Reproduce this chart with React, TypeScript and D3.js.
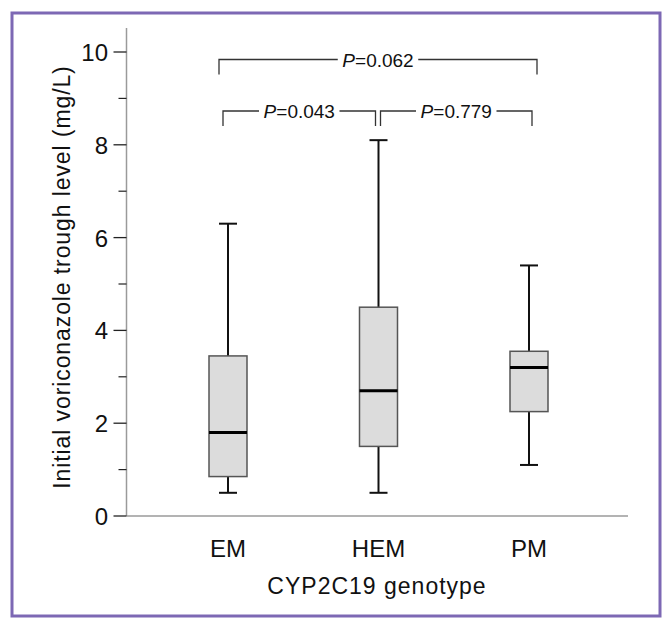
import React from "react";
import * as d3 from "d3";

const categories = ["EM", "HEM", "PM"];
const mins = [0.5, 0.5, 1.1];
const q1s = [0.85, 1.5, 2.25];
const medians = [1.8, 2.7, 3.2];
const q3s = [3.45, 4.5, 3.55];
const maxs = [6.3, 8.1, 5.4];

const majorTicks = [0, 2, 4, 6, 8, 10];
const minorTicks = [1, 3, 5, 7, 9];

const comparisons = [
  { from: "EM", to: "PM", level: 0, p: "0.062" },
  { from: "EM", to: "HEM", level: 1, p: "0.043" },
  { from: "HEM", to: "PM", level: 1, p: "0.779" },
];

const FONT = "'Liberation Sans', Arial, Helvetica, sans-serif";

export default function App() {
  const W = 663;
  const H = 620;
  const axisX = 126.5;
  const axisEndX = 628;
  const y = d3.scaleLinear().domain([0, 10]).range([516, 52]);
  const x = d3.scalePoint<string>().domain(categories).range([228, 529]);
  const boxHalf = 19;
  const capHalf = 9;

  const bracketY = [59.5, 111];
  const bracketDrop = 15;

  const textW = (s: string, fs: number) => {
    // rough Arial width estimate for gap
    return s.length * fs * 0.53;
  };

  return (
    <svg
      width={W}
      height={H}
      style={{ position: "absolute", left: 0, top: 0, background: "#fff" }}
      fontFamily={FONT}
    >
      <rect x={12} y={13} width={648} height={603} fill="#fff" stroke="#7d68b4" strokeWidth={3} />

      {/* axes */}
      <line x1={axisX} x2={axisX} y1={28} y2={y(0)} stroke="#9a9a9a" strokeWidth={1.5} />
      <line x1={axisX} x2={axisEndX} y1={y(0)} y2={y(0)} stroke="#9a9a9a" strokeWidth={1.5} />
      {majorTicks.map((t) => (
        <g key={"M" + t}>
          <line x1={axisX - 13} x2={axisX} y1={y(t)} y2={y(t)} stroke="#222" strokeWidth={1.3} />
          <text x={108} y={y(t) + 9} textAnchor="end" fontSize={24} fill="#111">
            {t}
          </text>
        </g>
      ))}
      {minorTicks.map((t) => (
        <line key={"m" + t} x1={axisX - 8} x2={axisX} y1={y(t)} y2={y(t)} stroke="#222" strokeWidth={1.2} />
      ))}

      {/* boxes */}
      {categories.map((c, i) => {
        const cx = x(c)!;
        return (
          <g key={c}>
            <line x1={cx} x2={cx} y1={y(maxs[i])} y2={y(q3s[i])} stroke="#111" strokeWidth={2} />
            <line x1={cx} x2={cx} y1={y(q1s[i])} y2={y(mins[i])} stroke="#111" strokeWidth={2} />
            <line x1={cx - capHalf} x2={cx + capHalf} y1={y(maxs[i])} y2={y(maxs[i])} stroke="#111" strokeWidth={2} />
            <line x1={cx - capHalf} x2={cx + capHalf} y1={y(mins[i])} y2={y(mins[i])} stroke="#111" strokeWidth={2} />
            <rect
              x={cx - boxHalf}
              y={y(q3s[i])}
              width={boxHalf * 2}
              height={y(q1s[i]) - y(q3s[i])}
              fill="#dcdcdc"
              stroke="#555"
              strokeWidth={1.5}
            />
            <line x1={cx - boxHalf} x2={cx + boxHalf} y1={y(medians[i])} y2={y(medians[i])} stroke="#000" strokeWidth={3} />
            <text x={cx} y={557} textAnchor="middle" fontSize={24} fill="#111">
              {c}
            </text>
          </g>
        );
      })}

      {/* brackets */}
      {comparisons.map((cmp, k) => {
        let x1 = x(cmp.from)!;
        let x2 = x(cmp.to)!;
        if (cmp.level === 0) {
          x1 -= 9;
          x2 += 8;
        } else if (cmp.from === "EM") {
          x1 -= 5;
          x2 -= 3;
        } else {
          x1 += 2;
          x2 += 3;
        }
        const by = bracketY[cmp.level];
        const mid = (x1 + x2) / 2;
        const label = "P=" + cmp.p;
        const tw = textW(label, 19);
        const gap = tw / 2 + 5;
        return (
          <g key={k} fill="none" stroke="#333" strokeWidth={1.3}>
            <path d={`M${x1},${by + bracketDrop}V${by}H${mid - gap}`} />
            <path d={`M${mid + gap},${by}H${x2}V${by + bracketDrop}`} />
            <text x={mid} y={by + 7} textAnchor="middle" fontSize={19} fill="#111" stroke="none">
              <tspan fontStyle="italic">P</tspan>
              <tspan>={cmp.p}</tspan>
            </text>
          </g>
        );
      })}

      {/* titles */}
      <text x={377} y={594} textAnchor="middle" fontSize={23} fill="#111" letterSpacing={1}>
        CYP2C19 genotype
      </text>
      <text
        transform={`translate(70,277) rotate(-90)`}
        textAnchor="middle"
        fontSize={23}
        fill="#111"
        letterSpacing={0.9}
      >
        Initial voriconazole trough level (mg/L)
      </text>
    </svg>
  );
}
